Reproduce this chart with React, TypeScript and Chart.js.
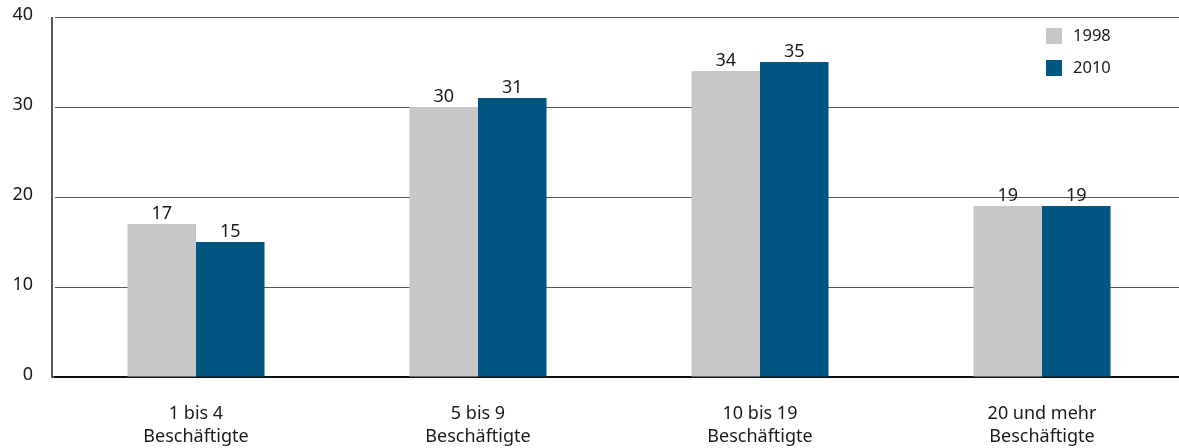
import React, { useEffect, useRef } from "react";
import { Chart, registerables } from "chart.js";

Chart.register(...registerables);

const categories: string[][] = [
  ["1 bis 4", "Beschäftigte"],
  ["5 bis 9", "Beschäftigte"],
  ["10 bis 19", "Beschäftigte"],
  ["20 und mehr", "Beschäftigte"],
];
const seriesNames = ["1998", "2010"];
const values1998 = [17, 30, 34, 19];
const values2010 = [15, 31, 35, 19];
const yTicks = [0, 10, 20, 30, 40];

const FONT = "'Noto Sans', 'Open Sans', sans-serif";
const GRAY = "#c6c7c6";
const BLUE = "#005581";
const TEXT = "#1a1a1a";

const valueLabels = {
  id: "valueLabels",
  afterDatasetsDraw(chart: any) {
    const ctx = chart.ctx;
    ctx.save();
    ctx.font = `18px ${FONT}`;
    ctx.fillStyle = TEXT;
    ctx.textAlign = "center";
    ctx.textBaseline = "alphabetic";
    chart.data.datasets.forEach((ds: any, i: number) => {
      const meta = chart.getDatasetMeta(i);
      meta.data.forEach((bar: any, j: number) => {
        ctx.fillText(String(ds.data[j]), bar.x, bar.y - 5);
      });
    });
    ctx.restore();
  },
};

const leftBorder = {
  id: "leftBorder",
  afterDraw(chart: any) {
    const ctx = chart.ctx;
    const a = chart.chartArea;
    ctx.save();
    ctx.strokeStyle = "#222";
    ctx.lineWidth = 1.5;
    ctx.beginPath();
    ctx.moveTo(a.left - 3, a.top);
    ctx.lineTo(a.left - 3, a.bottom);
    ctx.lineTo(a.left, a.bottom);
    ctx.stroke();
    ctx.restore();
  },
};

const customLegend = {
  id: "customLegend",
  afterDraw(chart: any) {
    const ctx = chart.ctx;
    const area = chart.chartArea;
    ctx.save();
    ctx.font = `16.5px ${FONT}`;
    ctx.textAlign = "left";
    ctx.textBaseline = "middle";
    chart.data.datasets.forEach((ds: any, i: number) => {
      const x = area.right - 137;
      const y = area.top + 11 + i * 32;
      ctx.fillStyle = ds.backgroundColor;
      ctx.fillRect(x, y, 16, 16);
      ctx.fillStyle = TEXT;
      ctx.fillText(ds.label, x + 27, y + 8);
    });
    ctx.restore();
  },
};

export default function App() {
  const ref = useRef<HTMLCanvasElement | null>(null);
  useEffect(() => {
    if (!ref.current) return;
    const chart = new Chart(ref.current, {
      type: "bar",
      data: {
        labels: categories,
        datasets: [
          { label: seriesNames[0], data: values1998, backgroundColor: GRAY, categoryPercentage: 0.486, barPercentage: 1 },
          { label: seriesNames[1], data: values2010, backgroundColor: BLUE, categoryPercentage: 0.486, barPercentage: 1 },
        ],
      },
      options: {
        animation: false,
        responsive: false,
        maintainAspectRatio: false,
        layout: { padding: { top: 17, right: 0, left: 0, bottom: 0 } },
        plugins: { legend: { display: false }, tooltip: { enabled: false } },
        scales: {
          x: {
            afterFit(scale: any) {
              scale.height = 71;
              scale.paddingLeft = 0;
              scale.paddingRight = 0;
            },
            grid: { display: false, drawTicks: false },
            border: { display: true, color: "#111", width: 2 },
            ticks: {
              color: TEXT,
              font: { family: FONT, size: 18, lineHeight: 1.28 },
              padding: 25,
              maxRotation: 0,
              autoSkip: false,
            },
          },
          y: {
            min: 0,
            max: 40,
            afterFit(scale: any) {
              scale.width = 55;
              scale.paddingTop = 0;
              scale.paddingBottom = 0;
            },
            afterBuildTicks(scale: any) {
              scale.ticks = yTicks.map((v) => ({ value: v }));
            },
            grid: { color: "#555", lineWidth: 1, drawTicks: false },
            border: { display: false },
            ticks: {
              color: TEXT,
              font: { family: FONT, size: 18 },
              padding: 22,
              labelOffset: -2,
            },
          },
        },
      },
      plugins: [valueLabels, leftBorder, customLegend],
    });
    return () => chart.destroy();
  }, []);
  return (
    <div style={{ position: "absolute", left: 0, top: 0, width: 1179, height: 448, overflow: "hidden", background: "#fff" }}>
      <canvas ref={ref} width={1183} height={448} style={{ width: 1183, height: 448, display: "block" }} />
    </div>
  );
}
